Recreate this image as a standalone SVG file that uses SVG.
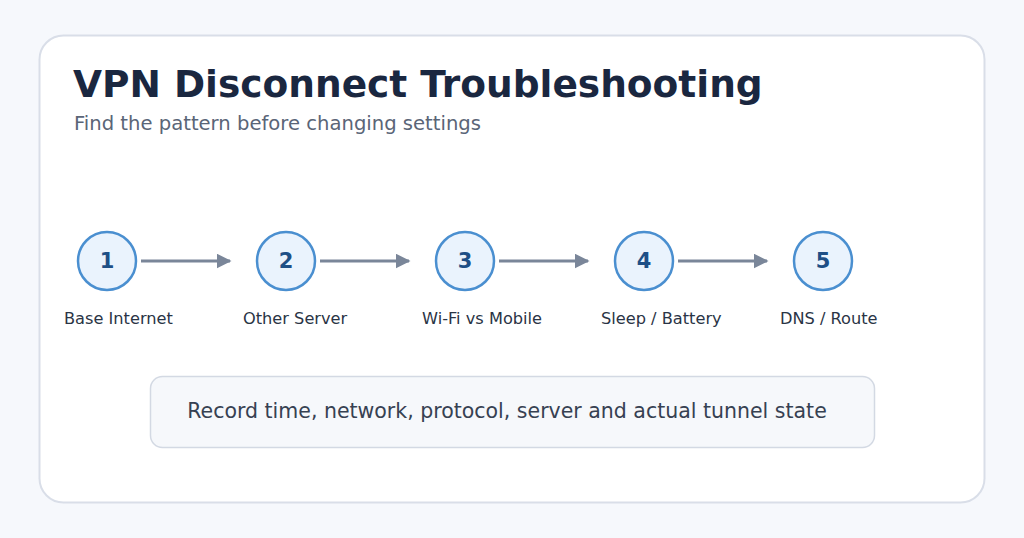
<svg xmlns="http://www.w3.org/2000/svg" width="1024" height="538" viewBox="0 0 1024 538">
<defs>
<style>
text{font-family:"DejaVu Sans",sans-serif}
.c{fill:#eaf3fd;stroke:#4a8fd0;stroke-width:2.5}
.n{font-size:21px;font-weight:bold;fill:#1e4f86;text-anchor:middle}
.l{font-size:16.2px;fill:#2a3445}
.e{stroke:#7a8699;stroke-width:3;fill:none;marker-end:url(#a)}
</style>
<marker id="a" viewBox="0 0 10 10" refX="9" refY="5" markerWidth="5" markerHeight="5" markerUnits="strokeWidth" orient="auto"><path d="M0,0L10,5L0,10z" fill="#7a8699"/></marker>
</defs>
<rect width="1024" height="538" fill="#f6f8fc"/>
<rect x="39.500" y="35.500" width="945" height="467" rx="24" fill="#fff" stroke="#d9dee8" stroke-width="2"/>
<text x="73" y="97" font-size="37.500" font-weight="bold" fill="#1a2740">VPN Disconnect Troubleshooting</text>
<text x="74" y="130" font-size="19.600" fill="#5a6577">Find the pattern before changing settings</text>
<g id="connectors">
<line class="e" x1="141" y1="261" x2="230" y2="261"/>
<line class="e" x1="320" y1="261" x2="409" y2="261"/>
<line class="e" x1="499" y1="261" x2="588" y2="261"/>
<line class="e" x1="678" y1="261" x2="767" y2="261"/>
</g>
<g id="n1"><circle class="c" cx="107" cy="261" r="29"/><text class="n" x="107" y="268">1</text><text class="l" x="64" y="324">Base Internet</text></g>
<g id="n2"><circle class="c" cx="286" cy="261" r="29"/><text class="n" x="286" y="268">2</text><text class="l" x="243" y="324">Other Server</text></g>
<g id="n3"><circle class="c" cx="465" cy="261" r="29"/><text class="n" x="465" y="268">3</text><text class="l" x="422" y="324">Wi-Fi vs Mobile</text></g>
<g id="n4"><circle class="c" cx="644" cy="261" r="29"/><text class="n" x="644" y="268">4</text><text class="l" x="601" y="324">Sleep / Battery</text></g>
<g id="n5"><circle class="c" cx="823" cy="261" r="29"/><text class="n" x="823" y="268">5</text><text class="l" x="780" y="324">DNS / Route</text></g>
<g id="note"><rect x="150.500" y="376.500" width="724" height="71" rx="12" fill="#f6f8fb" stroke="#d3d9e3" stroke-width="1.500"/>
<text x="507" y="418" font-size="20.500" fill="#364152" text-anchor="middle">Record time, network, protocol, server and actual tunnel state</text></g>
</svg>
